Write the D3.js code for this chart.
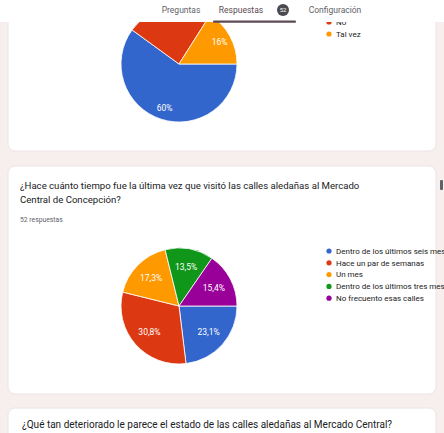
<!DOCTYPE html>
<html lang="es">
<head>
<meta charset="utf-8">
<script src="https://cdn.jsdelivr.net/npm/d3@7"></script>
<style>
  html, body { margin: 0; padding: 0; background: #f6efee; }
  svg { display: block; font-family: Roboto, "Noto Sans", Arial, sans-serif; }
</style>
</head>
<body>
<svg id="page" width="444" height="433"></svg>
<script>
// --- Question 1 (partially scrolled out of view) ---
const q1Categories = ["Sí", "No", "Tal vez"];
const q1Values = [60, 24, 16];
const q1Colors = ["#3366cc", "#dc3912", "#ff9900"];

// --- Question 2 ---
const q2Title = ["¿Hace cuánto tiempo fue la última vez que visitó las calles aledañas al Mercado",
                 "Central de Concepción?"];
const q2Responses = "52 respuestas";
const q2Categories = ["Dentro de los últimos seis meses", "Hace un par de semanas", "Un mes",
                      "Dentro de los últimos tres meses", "No frecuento esas calles"];
const q2Counts = [12, 16, 9, 7, 8];
const q2Colors = ["#3366cc", "#dc3912", "#ff9900", "#109618", "#990099"];

// --- Question 3 (just entering view) ---
const q3Title = "¿Qué tan deteriorado le parece el estado de las calles aledañas al Mercado Central?";

// --- Tabs in the header ---
const tabs = ["Preguntas", "Respuestas", "Configuración"];
const responseBadge = "52";

const svg = d3.select("#page");
const W = 444, H = 433, HEADER_H = 22;

// Scrolled content sits below the fixed header
svg.append("defs").append("clipPath").attr("id", "below-header")
  .append("rect").attr("x", 0).attr("y", HEADER_H).attr("width", W).attr("height", H - HEADER_H);
const content = svg.append("g").attr("clip-path", "url(#below-header)");

// Cards
const cards = [
  { y0: -20, y1: 151 },
  { y0: 166, y1: 394 },
  { y0: 408, y1: 460 }
];
content.selectAll("rect.card").data(cards).join("rect")
  .attr("class", "card")
  .attr("x", 8).attr("width", 428)
  .attr("y", d => d.y0).attr("height", d => d.y1 - d.y0)
  .attr("rx", 7)
  .attr("fill", "#ffffff")
  .attr("stroke", "#ece4e3");

// A pie drawn clockwise beginning at three o'clock; labels hidden by the header are skipped
function drawPie(cx, cy, values, colors, radius, labelRatio, fmt) {
  const g = content.append("g").attr("transform", `translate(${cx},${cy})`);
  const total = d3.sum(values);
  const pie = d3.pie().sort(null)
    .startAngle(Math.PI / 2).endAngle(Math.PI / 2 + 2 * Math.PI);
  const arcs = pie(values);
  const arc = d3.arc().innerRadius(0).outerRadius(radius);
  const lr = radius * labelRatio;
  const labelArc = d3.arc().innerRadius(lr).outerRadius(lr);
  g.selectAll("path").data(arcs).join("path")
    .attr("d", arc)
    .attr("fill", (d, i) => colors[i])
    .attr("stroke", "#ffffff")
    .attr("stroke-width", 0.8);
  const shown = arcs.filter(d => cy + labelArc.centroid(d)[1] - 4 > HEADER_H);
  g.selectAll("text").data(shown).join("text")
    .attr("transform", d => `translate(${labelArc.centroid(d)})`)
    .attr("text-anchor", "middle")
    .attr("dy", "0.35em")
    .attr("fill", "#ffffff")
    .attr("font-size", 8.5)
    .text(d => fmt(d.value / total));
}

// Legend rows; rows that would sit entirely under the header are skipped
function drawLegend(y0, labels, colors, rowH) {
  const items = labels.map((label, i) => ({ label, color: colors[i], y: y0 + i * rowH }))
    .filter(d => d.y + 3 > HEADER_H - 2);
  const rows = content.append("g").selectAll("g").data(items).join("g")
    .attr("transform", d => `translate(329,${d.y})`);
  rows.append("circle").attr("r", 2.6).attr("fill", d => d.color);
  rows.append("text").attr("x", 7).attr("dy", "0.35em")
    .attr("font-size", 8).attr("fill", "#222222")
    .text(d => d.label);
}

const pctFmt = p => {
  const v = Math.round(p * 1000) / 10;
  return (Number.isInteger(v) ? v.toString() : v.toFixed(1).replace(".", ",")) + "%";
};

// Question 1 pie + legend
drawPie(179, 64, q1Values, q1Colors, 58, 0.8, pctFmt);
drawLegend(10, q1Categories, q1Colors, 12);

// Question 2 header texts
content.append("g").selectAll("text").data(q2Title).join("text")
  .attr("x", 20).attr("y", (d, i) => 189 + i * 13.5)
  .attr("font-size", 9.6).attr("fill", "#202124")
  .text(d => d);
content.append("text").attr("x", 20).attr("y", 222)
  .attr("font-size", 6.8).attr("fill", "#5f6368").text(q2Responses);
content.append("rect").attr("x", 440).attr("y", 180).attr("width", 3).attr("height", 10)
  .attr("rx", 1).attr("fill", "#5f6368");

// Question 2 pie + legend
drawPie(179, 306, q2Counts, q2Colors, 58, 0.68, pctFmt);
drawLegend(251, q2Categories, q2Colors, 11.8);

// Question 3 heading
content.append("text").attr("x", 22).attr("y", 428)
  .attr("font-size", 10).attr("fill", "#202124").text(q3Title);

// Header bar with tabs
const header = svg.append("g");
header.append("rect").attr("x", 0).attr("y", 0).attr("width", W).attr("height", HEADER_H)
  .attr("fill", "#ffffff");
const tabX = [181, 241, 335];
header.selectAll("text.tab").data(tabs).join("text")
  .attr("class", "tab")
  .attr("x", (d, i) => tabX[i]).attr("y", 13)
  .attr("text-anchor", "middle")
  .attr("font-size", 8.5)
  .attr("fill", (d, i) => i === 1 ? "#5b4a55" : "#5f6368")
  .text(d => d);
header.append("circle").attr("cx", 283).attr("cy", 10).attr("r", 6).attr("fill", "#4a4a50");
header.append("text").attr("x", 283).attr("y", 10).attr("dy", "0.35em")
  .attr("text-anchor", "middle").attr("font-size", 6).attr("fill", "#ffffff")
  .text(responseBadge);
header.append("rect").attr("x", 213).attr("y", 20.5).attr("width", 83).attr("height", 2.2)
  .attr("rx", 1).attr("fill", "#5b4a55");
</script>
</body>
</html>
